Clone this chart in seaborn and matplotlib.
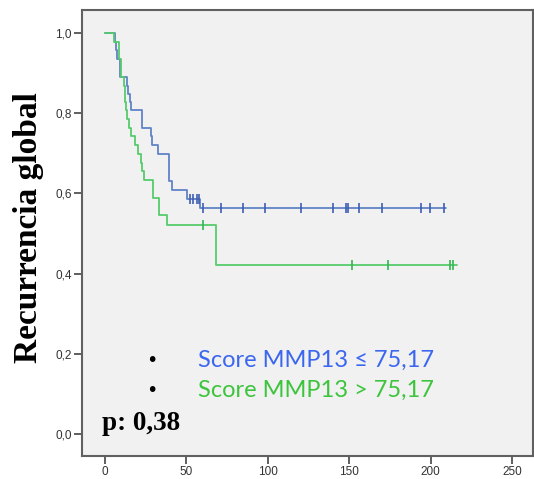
import numpy as np
import pandas as pd
import matplotlib
matplotlib.use("Agg")
import matplotlib.pyplot as plt
import seaborn as sns

# ---- data (Kaplan-Meier style step curves) ----
blue_times = [0, 6.3, 6.8, 7.3, 9.5, 13.3, 14.3, 15.4, 16.2, 22.5, 23.0, 28.3, 28.8,
              32.3, 39.5, 41.2, 50.2, 58.4]
blue_surv = [1.0, 0.978, 0.957, 0.935, 0.891, 0.868, 0.848, 0.827, 0.807, 0.785, 0.763,
             0.742, 0.720, 0.697, 0.630, 0.609, 0.587, 0.564]
blue_end = 209.5
blue_censor = [52.2, 54.2, 56.6, 57.9, 60.4, 71.5, 85.0, 98.3, 120.2, 139.8, 148.0,
               149.5, 156.0, 170.0, 193.9, 199.6, 208.2]

green_times = [0, 5.7, 8.8, 9.6, 11.9, 12.3, 12.6, 12.9, 13.5, 15.0, 15.8, 18.3, 20.6,
               22.1, 22.8, 24.2, 29.4, 33.4, 38.3, 68.2]
green_surv = [1.0, 0.978, 0.935, 0.891, 0.868, 0.846, 0.827, 0.807, 0.784, 0.763, 0.742,
              0.720, 0.698, 0.676, 0.655, 0.632, 0.589, 0.545, 0.522, 0.420]
green_end = 216.0
green_censor = [60.4, 151.9, 174.0, 211.9, 213.6]

labels = ["Score MMP13 \u2264 75,17", "Score MMP13 > 75,17"]
p_text = "p: 0,38"
y_label = "Recurrencia global"
x_ticks = [0, 50, 100, 150, 200, 250]
y_ticks = [0.0, 0.2, 0.4, 0.6, 0.8, 1.0]

line_colors = ["#6383c8", "#55cb6c"]
mark_colors = ["#3d5fb3", "#33b552"]
text_colors = ["#3a66f0", "#3cc43c"]

sns.set_style("white")

fig = plt.figure(figsize=(5.34, 4.79), dpi=100)
ax = fig.add_axes([82 / 534, 1 - 456 / 479, (533 - 82) / 534, (456 - 10) / 479])
ax.set_facecolor("#f1f1f1")


def step_frame(times, surv, end):
    t = list(times) + [end]
    s = list(surv) + [surv[-1]]
    return pd.DataFrame({"t": t, "s": s})


def surv_at(times, surv, c):
    idx = np.searchsorted(np.asarray(times), np.asarray(c), side="right") - 1
    return np.asarray(surv)[idx]


groups = [(blue_times, blue_surv, blue_end, blue_censor),
          (green_times, green_surv, green_end, green_censor)]

for i, (tt, ss, end, cens) in enumerate(groups):
    df = step_frame(tt, ss, end)
    sns.lineplot(data=df, x="t", y="s", ax=ax, color=line_colors[i], linewidth=1.3,
                 drawstyle="steps-post", estimator=None, sort=False, zorder=3 + i)
    cdf = pd.DataFrame({"t": cens, "s": surv_at(tt, ss, cens)})
    sns.scatterplot(data=cdf, x="t", y="s", ax=ax, marker="|", s=55,
                    color=mark_colors[i], linewidth=1.2, zorder=5 + i)

ax.set_xlim(-14.1, 262.9)
ax.set_ylim(-0.055, 1.057)
ax.set_xticks(x_ticks)
ax.set_xticklabels([str(v) for v in x_ticks])
ax.set_yticks(y_ticks)
ax.set_yticklabels([f"{v:.1f}".replace(".", ",") for v in y_ticks])
ax.tick_params(axis="both", direction="out", length=6, width=1.2, color="#444444",
               labelsize=8.5, labelcolor="#333333", pad=1.5, bottom=True, left=True)
for lab in ax.get_xticklabels() + ax.get_yticklabels():
    lab.set_family("Liberation Sans")
ax.set_xlabel("")
ax.set_ylabel("")
for sp in ax.spines.values():
    sp.set_color("#606060")
    sp.set_linewidth(1.5)

fig.text(29 / 534, 1 - 228 / 479, y_label, rotation=90, ha="center", va="center",
         fontsize=24, fontweight="bold", family="Liberation Serif", color="black")

# legend-like annotation text inside the plot
ax.text(29, 0.183, "\u2022", ha="center", va="center", fontsize=14, color="black")
ax.text(29, 0.108, "\u2022", ha="center", va="center", fontsize=14, color="black")
ax.text(57, 0.183, labels[0], ha="left", va="center", fontsize=17,
        family="Lato", color=text_colors[0])
ax.text(57, 0.108, labels[1], ha="left", va="center", fontsize=17,
        family="Lato", color=text_colors[1])
ax.text(-2, 0.027, p_text, ha="left", va="center", fontsize=19.5, fontweight="bold",
        family="Liberation Serif", color="black")

fig.savefig("out.png", dpi=100, facecolor="white")
